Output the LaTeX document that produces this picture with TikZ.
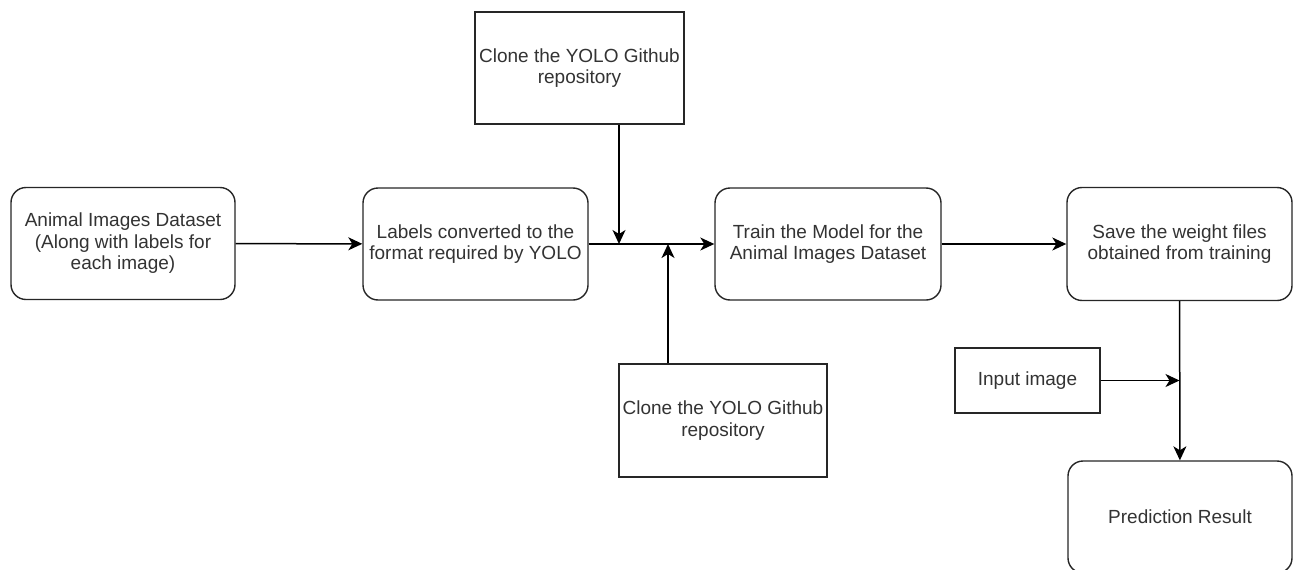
\documentclass[tikz,border=0pt]{standalone}
\usepackage{fontspec}
\setmainfont{Liberation Sans}
\usetikzlibrary{arrows.meta}
\definecolor{txt}{HTML}{333333}
\begin{document}
\begin{tikzpicture}[x=1pt,y=-1pt,
  box/.style={draw=black!85, line width=1.4pt, fill=white, text=txt,
    align=center, inner sep=0pt,
    font=\fontsize{19pt}{21.5pt}\selectfont},
  rbox/.style={box, rounded corners=15pt},
  sbox/.style={box},
  flow/.style={draw=black, line width=1.5pt,
    -{Stealth[length=14pt,width=13pt,inset=4pt]}}]
\useasboundingbox (0,0) rectangle (1298,570);

% process steps
\node[rbox, minimum width=224pt, minimum height=112pt] (A) at (123,243.5)
  {Animal Images Dataset\\(Along with labels for\\each image)};
\node[rbox, minimum width=225pt, minimum height=112pt] (B) at (475.5,244)
  {Labels converted to the\\format required by YOLO};
\node[rbox, minimum width=226pt, minimum height=112pt] (D) at (828,244)
  {Train the Model for the\\Animal Images Dataset};
\node[rbox, minimum width=225pt, minimum height=113pt] (F) at (1179.5,244)
  {Save the weight files\\obtained from training};
\node[rbox, minimum width=224pt, minimum height=112pt] (H) at (1180,517)
  {Prediction Result};

% side inputs
\node[sbox, minimum width=209pt, minimum height=112pt] (C) at (579.5,68)
  {Clone the YOLO Github\\repository};
\node[sbox, minimum width=208pt, minimum height=113pt] (E) at (723,420.5)
  {Clone the YOLO Github\\repository};
\node[sbox, minimum width=145pt, minimum height=65pt] (G) at (1027.5,380.5)
  {Input image};

% junction points on the connectors
\coordinate (j1) at (619,244);
\coordinate (j2) at (668,244);
\coordinate (j3) at (F.south |- G.east);

% connectors
\draw[flow] (A) -- (B);
\draw[flow] (B) -- (D);
\draw[flow] (D) -- (F);
\draw[flow] (C.south -| j1) -- (j1);
\draw[flow] (E.north -| j2) -- (j2);
\draw[flow] (F) -- (H);
\draw[flow] (G) -- (j3);
\end{tikzpicture}
\end{document}
